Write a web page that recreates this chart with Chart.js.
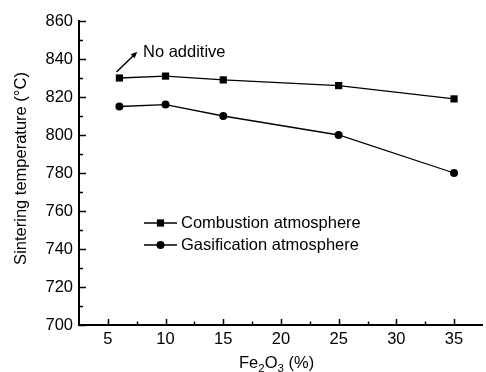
<!DOCTYPE html>
<html><head><meta charset="utf-8">
<script src="https://cdn.jsdelivr.net/npm/chart.js@4/dist/chart.umd.min.js"></script>
<style>
html,body{margin:0;padding:0;overflow:hidden;background:#fff;width:486px;height:372px}
#wrap{position:absolute;left:0;top:0;width:488px;height:372px}
</style>
</head><body>
<div id="wrap"><canvas id="c" width="488" height="372"></canvas></div>
<script>
// ---- data ----
const fe2o3 = [6, 10, 15, 25, 35];
const combustion = [830, 831, 829, 826, 819];
const gasification = [815, 816, 810, 800, 780];
const xTicks = [5, 10, 15, 20, 25, 30, 35];
const yTicks = [700, 720, 740, 760, 780, 800, 820, 840, 860];
const seriesNames = ['Combustion atmosphere', 'Gasification atmosphere'];
const yTitle = 'Sintering temperature (\u00B0C)';
const annotationText = 'No additive';

// ---- layout / style ----
const FONT = '"Liberation Sans", Arial, sans-serif';
const FS = 16.5;
const annFrom = {x: 5.75, y: 833.2};
const annTo = {x: 7.55, y: 843.8};

const pts = (ys) => fe2o3.map((x, i) => ({x: x, y: ys[i]}));

const decor = {
  id: 'decor',
  afterDraw(chart) {
    const ctx = chart.ctx, xs = chart.scales.x, ys = chart.scales.y, a = chart.chartArea;
    ctx.save();
    ctx.strokeStyle = '#000';
    ctx.fillStyle = '#000';
    ctx.lineWidth = 1.5;
    // inward ticks x
    ctx.beginPath();
    xTicks.forEach((v, i) => {
      const px = Math.round(xs.getPixelForValue(v)) + 0.5;
      ctx.moveTo(px, a.bottom); ctx.lineTo(px, a.bottom - 6);
      const m = v + (xTicks[1] - xTicks[0]) / 2;
      if (m < xs.max) {
        const pm = Math.round(xs.getPixelForValue(m)) + 0.5;
        ctx.moveTo(pm, a.bottom); ctx.lineTo(pm, a.bottom - 3.5);
      }
      if (i === 0) {
        const m0 = v - (xTicks[1] - xTicks[0]) / 2;
        if (m0 > xs.min) {
          const pm = Math.round(xs.getPixelForValue(m0)) + 0.5;
          ctx.moveTo(pm, a.bottom); ctx.lineTo(pm, a.bottom - 3.5);
        }
      }
    });
    // inward ticks y
    yTicks.forEach((v, i) => {
      const py = Math.round(ys.getPixelForValue(v)) + 0.5;
      ctx.moveTo(a.left, py); ctx.lineTo(a.left + 7, py);
      if (i < yTicks.length - 1) {
        const m = (v + yTicks[i + 1]) / 2;
        const pm = Math.round(ys.getPixelForValue(m)) + 0.5;
        ctx.moveTo(a.left, pm); ctx.lineTo(a.left + 4, pm);
      }
    });
    ctx.stroke();

    // y title
    ctx.save();
    ctx.translate(21, 168.5);
    ctx.rotate(-Math.PI / 2);
    ctx.font = FS + 'px ' + FONT;
    ctx.textAlign = 'center';
    ctx.textBaseline = 'middle';
    ctx.fillText(yTitle, 0, 0);
    ctx.restore();

    // x title Fe2O3 (%)
    const parts = [['Fe', 0, FS], ['2', 4, 11.5], ['O', 0, FS], ['3', 4, 11.5], [' (%)', 0, FS]];
    let tx = 239;
    const base = 368;
    ctx.textAlign = 'left';
    ctx.textBaseline = 'alphabetic';
    parts.forEach(p => {
      ctx.font = p[2] + 'px ' + FONT;
      ctx.fillText(p[0], tx, base + p[1]);
      tx += ctx.measureText(p[0]).width;
    });

    // legend
    ctx.font = FS + 'px ' + FONT;
    ctx.textBaseline = 'middle';
    const legY = [223, 245];
    const styles = ['rect', 'circle'];
    legY.forEach((ly, i) => {
      ctx.lineWidth = 1.3;
      ctx.beginPath();
      ctx.moveTo(144, ly); ctx.lineTo(177, ly);
      ctx.stroke();
      if (styles[i] === 'rect') {
        ctx.fillRect(160.5 - 3.6, ly - 3.6, 7.2, 7.2);
      } else {
        ctx.beginPath(); ctx.arc(160.5, ly, 4, 0, Math.PI * 2); ctx.fill();
      }
      ctx.fillText(seriesNames[i], 181, ly + 0.5);
    });

    // annotation arrow
    const x1 = xs.getPixelForValue(annFrom.x), y1 = ys.getPixelForValue(annFrom.y);
    const x2 = xs.getPixelForValue(annTo.x), y2 = ys.getPixelForValue(annTo.y);
    ctx.lineWidth = 1.5;
    ctx.beginPath(); ctx.moveTo(x1, y1);
    const ang = Math.atan2(y2 - y1, x2 - x1);
    const hl = 7;
    ctx.lineTo(x2 - hl * 0.8 * Math.cos(ang), y2 - hl * 0.8 * Math.sin(ang));
    ctx.stroke();
    ctx.beginPath();
    ctx.moveTo(x2, y2);
    ctx.lineTo(x2 - hl * Math.cos(ang - 0.4), y2 - hl * Math.sin(ang - 0.4));
    ctx.lineTo(x2 - hl * Math.cos(ang + 0.4), y2 - hl * Math.sin(ang + 0.4));
    ctx.closePath(); ctx.fill();
    ctx.textBaseline = 'alphabetic';
    ctx.fillText(annotationText, 143, 56.5);
    ctx.restore();
  }
};

new Chart(document.getElementById('c'), {
  type: 'line',
  data: {
    datasets: [
      {label: seriesNames[0], data: pts(combustion), borderColor: '#000', backgroundColor: '#000',
       borderWidth: 1.3, pointStyle: 'rect', pointRadius: 5.1, pointBorderWidth: 0, tension: 0},
      {label: seriesNames[1], data: pts(gasification), borderColor: '#000', backgroundColor: '#000',
       borderWidth: 1.3, pointStyle: 'circle', pointRadius: 4, pointBorderWidth: 0, tension: 0}
    ]
  },
  options: {
    responsive: false,
    animation: false,
    devicePixelRatio: 1,
    layout: {padding: {top: 21, left: 0, right: 0, bottom: 0}},
    plugins: {legend: {display: false}, tooltip: {enabled: false}},
    scales: {
      x: {
        type: 'linear', min: 2.5, max: 37.5,
        afterBuildTicks: s => { s.ticks = xTicks.map(v => ({value: v})); },
        afterFit: s => { s.height = 47; },
        grid: {display: false, drawTicks: false},
        border: {display: true, color: '#000', width: 2},
        ticks: {color: '#000', font: {family: FONT, size: FS}, padding: 5, maxRotation: 0, autoSkip: false}
      },
      y: {
        type: 'linear', min: 700, max: 860,
        afterBuildTicks: s => { s.ticks = yTicks.map(v => ({value: v})); },
        afterFit: s => { s.width = 79; },
        grid: {display: false, drawTicks: false},
        border: {display: true, color: '#000', width: 2},
        ticks: {color: '#000', font: {family: FONT, size: FS}, padding: 6, autoSkip: false}
      }
    }
  },
  plugins: [decor]
});
</script>
</body></html>
